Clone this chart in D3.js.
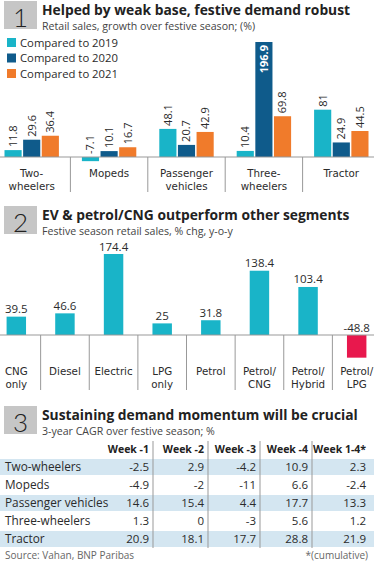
<!DOCTYPE html>
<html>
<head>
<meta charset="utf-8">
<script src="https://cdn.jsdelivr.net/npm/d3@7"></script>
<style>
  body { margin: 0; background: #fff; }
  svg { display: block; font-family: "Open Sans", sans-serif; }
</style>
</head>
<body>
<div id="graph"></div>
<script>
// chart 1 data
var cats1 = [["Two-", "wheelers"], ["Mopeds"], ["Passenger", "vehicles"], ["Three-", "wheelers"], ["Tractor"]];
var series1 = ["Compared to 2019", "Compared to 2020", "Compared to 2021"];
var v2019 = [11.8, -7.1, 48.1, 10.4, 81];
var v2020 = [29.6, 10.1, 20.7, 196.9, 24.9];
var v2021 = [36.4, 16.7, 42.9, 69.8, 44.5];
var colors1 = ["#19b4c8", "#0f5b8b", "#f07b2b"];

// chart 2 data
var cats2 = [["CNG", "only"], ["Diesel"], ["Electric"], ["LPG", "only"], ["Petrol"], ["Petrol/", "CNG"], ["Petrol/", "Hybrid"], ["Petrol/", "LPG"]];
var vals2 = [39.5, 46.6, 174.4, 25, 31.8, 138.4, 103.4, -48.8];

// table data
var weeks = ["Week -1", "Week -2", "Week -3", "Week -4", "Week 1-4*"];
var rows3 = ["Two-wheelers", "Mopeds", "Passenger vehicles", "Three-wheelers", "Tractor"];
var twoW = ["-2.5", "2.9", "-4.2", "10.9", "2.3"];
var mopeds = ["-4.9", "-2", "-11", "6.6", "-2.4"];
var passenger = ["14.6", "15.4", "4.4", "17.7", "13.3"];
var threeW = ["1.3", "0", "-3", "5.6", "1.2"];
var tractor = ["20.9", "18.1", "17.7", "28.8", "21.9"];

var width = 374, height = 561;
var svg = d3.select("#graph").append("svg")
    .attr("width", width)
    .attr("height", height);

var ink = "#2b2b2b";
var catFont = "'DejaVu Sans', sans-serif";

function header(num, y, title, sub) {
    svg.append("rect")
        .attr("x", 4).attr("y", y)
        .attr("width", 33).attr("height", 28)
        .attr("fill", "#c6c6c6");
    svg.append("text")
        .attr("x", 20.5).attr("y", y + 26)
        .attr("text-anchor", "middle")
        .attr("font-family", "Lato, sans-serif")
        .attr("font-size", 26)
        .attr("font-weight", 300)
        .attr("fill", "#222")
        .text(num);
    svg.append("text")
        .attr("x", 42).attr("y", y + 14)
        .attr("font-size", 13.8)
        .attr("font-weight", 700)
        .attr("fill", "#222")
        .text(title);
    svg.append("text")
        .attr("x", 42).attr("y", y + 29.3)
        .attr("font-size", 10.6)
        .attr("fill", "#444")
        .text(sub);
}

// ---------- panel 1 ----------
header("1", 1, "Helped by weak base, festive demand robust", "Retail sales, growth over festive season; (%)");

var legend = svg.selectAll(".leg").data(series1).enter().append("g")
    .attr("transform", function (d, i) { return "translate(7," + (38 + i * 15.5) + ")"; });
legend.append("rect").attr("width", 9).attr("height", 9)
    .attr("fill", function (d, i) { return colors1[i]; });
legend.append("text").attr("x", 13).attr("y", 8.5)
    .attr("font-size", 11.3).attr("fill", ink)
    .text(function (d) { return d; });

var data1 = cats1.map(function (c, i) {
    return { cat: c.join(" "), lines: c, vals: [v2019[i], v2020[i], v2021[i]] };
});

var x1 = d3.scaleBand().domain(data1.map(function (d) { return d.cat; })).range([-7, 380]);
var xs1 = d3.scaleBand().domain([0, 1, 2]).range([11.5, x1.bandwidth() - 11.5]).paddingInner(0.08);
var y1 = d3.scaleLinear().domain([0, 196.9]).range([157, 42]);

var g1 = svg.selectAll(".grp1").data(data1).enter().append("g")
    .attr("transform", function (d) { return "translate(" + x1(d.cat) + ",0)"; });

g1.selectAll("rect").data(function (d) { return d.vals; }).enter().append("rect")
    .attr("x", function (v, i) { return xs1(i); })
    .attr("width", xs1.bandwidth())
    .attr("y", function (v) { return Math.min(y1(v), y1(0)); })
    .attr("height", function (v) { return Math.abs(y1(v) - y1(0)); })
    .attr("fill", function (v, i) { return colors1[i]; });

var maxV = d3.max(v2020.concat(v2019, v2021));
g1.selectAll(".val").data(function (d) { return d.vals; }).enter().append("text")
    .attr("font-size", 11)
    .attr("dy", "0.35em")
    .attr("text-anchor", function (v) { return v === maxV ? "end" : "start"; })
    .attr("fill", function (v) { return v === maxV ? "#fff" : ink; })
    .attr("font-weight", function (v) { return v === maxV ? 700 : 400; })
    .attr("transform", function (v, i) {
        var cx = xs1(i) + xs1.bandwidth() / 2;
        var ty = v === maxV ? y1(v) + 3 : Math.min(y1(v), y1(0)) - 3;
        return "translate(" + cx + "," + ty + ") rotate(-90)";
    })
    .text(function (v) { return v; });

svg.append("line").attr("x1", 0).attr("x2", width)
    .attr("y1", y1(0)).attr("y2", y1(0))
    .attr("stroke", "#999").attr("stroke-width", 1);

svg.selectAll(".div1").data(data1.slice(1)).enter().append("line")
    .attr("x1", function (d) { return x1(d.cat); })
    .attr("x2", function (d) { return x1(d.cat); })
    .attr("y1", y1(0)).attr("y2", 192)
    .attr("stroke", "#999");

g1.append("text")
    .attr("font-family", catFont)
    .attr("font-size", 10.3).attr("fill", ink)
    .attr("text-anchor", "middle")
    .selectAll("tspan").data(function (d) { return d.lines; }).enter().append("tspan")
    .attr("x", x1.bandwidth() / 2)
    .attr("y", function (l, i) { return 176.5 + i * 13; })
    .text(function (l) { return l; });

// ---------- panel 2 ----------
header("2", 206, "EV & petrol/CNG outperform other segments", "Festive season retail sales, % chg, y-o-y");

var data2 = cats2.map(function (c, i) { return { cat: c.join(" "), lines: c, v: vals2[i] }; });
var x2 = d3.scaleBand().domain(data2.map(function (d) { return d.cat; })).range([-8, 381]);
var y2 = d3.scaleLinear().domain([0, 174.4]).range([335, 254]);
var bw2 = x2.bandwidth() * 0.4;

var g2 = svg.selectAll(".grp2").data(data2).enter().append("g")
    .attr("transform", function (d) { return "translate(" + x2(d.cat) + ",0)"; });

g2.append("rect")
    .attr("x", (x2.bandwidth() - bw2) / 2)
    .attr("width", bw2)
    .attr("y", function (d) { return Math.min(y2(d.v), y2(0)); })
    .attr("height", function (d) { return Math.abs(y2(d.v) - y2(0)); })
    .attr("fill", function (d) { return d.v < 0 ? "#e8184d" : "#19b4c8"; });

g2.append("text")
    .attr("x", x2.bandwidth() / 2)
    .attr("y", function (d) { return Math.min(y2(d.v), y2(0)) - 3.5; })
    .attr("text-anchor", "middle")
    .attr("font-size", 11.5).attr("fill", ink)
    .text(function (d) { return d.v; });

svg.append("line").attr("x1", 0).attr("x2", width)
    .attr("y1", y2(0)).attr("y2", y2(0))
    .attr("stroke", "#999");

svg.selectAll(".div2").data(data2.slice(1)).enter().append("line")
    .attr("x1", function (d) { return x2(d.cat); })
    .attr("x2", function (d) { return x2(d.cat); })
    .attr("y1", y2(0)).attr("y2", 390)
    .attr("stroke", "#999");

g2.append("text")
    .attr("font-family", catFont)
    .attr("font-size", 10.3).attr("fill", ink)
    .attr("text-anchor", "middle")
    .selectAll("tspan").data(function (d) { return d.lines; }).enter().append("tspan")
    .attr("x", x2.bandwidth() / 2)
    .attr("y", function (l, i) { return 375 + i * 13; })
    .text(function (l) { return l; });

// ---------- panel 3 ----------
header("3", 406, "Sustaining demand momentum will be crucial", "3-year CAGR over festive season; %");

var table = [twoW, mopeds, passenger, threeW, tractor];
var colEdges = [153, 208, 260, 312, 370];
var rowY = d3.scaleBand().domain(rows3).range([458, 548]);

svg.selectAll(".rowbg").data(rows3).enter().append("rect")
    .filter(function (d, i) { return i % 2 === 0; })
    .attr("x", 0).attr("width", width)
    .attr("y", function (d) { return rowY(d) + 1; })
    .attr("height", rowY.bandwidth() - 2)
    .attr("fill", "#d4e6f1");

svg.selectAll(".wk").data(weeks).enter().append("text")
    .attr("x", function (d, i) { return colEdges[i] - 4; })
    .attr("y", 449).attr("dy", "0.35em")
    .attr("text-anchor", "end")
    .attr("font-size", 10.5).attr("font-weight", 700).attr("fill", "#222")
    .text(function (d) { return d; });

svg.selectAll(".coldiv").data(colEdges.slice(0, 4)).enter().append("line")
    .attr("x1", function (d) { return d; }).attr("x2", function (d) { return d; })
    .attr("y1", 441).attr("y2", 548)
    .attr("stroke", "#999");

var tr = svg.selectAll(".tr").data(rows3).enter().append("g")
    .attr("transform", function (d) { return "translate(0," + (rowY(d) + rowY.bandwidth() / 2) + ")"; });

tr.append("text")
    .attr("x", 5).attr("dy", "0.35em")
    .attr("font-size", 11.8).attr("fill", ink)
    .text(function (d) { return d; });

tr.selectAll(".cell").data(function (d, i) { return table[i]; }).enter().append("text")
    .attr("x", function (d, i) { return colEdges[i] - 4; })
    .attr("dy", "0.35em")
    .attr("text-anchor", "end")
    .attr("font-size", 11.5).attr("fill", ink)
    .text(function (d) { return d; });

svg.append("text").attr("x", 5).attr("y", 558.5)
    .attr("font-size", 10).attr("fill", "#666")
    .text("Source: Vahan, BNP Paribas");
svg.append("text").attr("x", 368).attr("y", 558.5)
    .attr("text-anchor", "end")
    .attr("font-size", 10).attr("fill", "#666")
    .text("*(cumulative)");
</script>
</body>
</html>
